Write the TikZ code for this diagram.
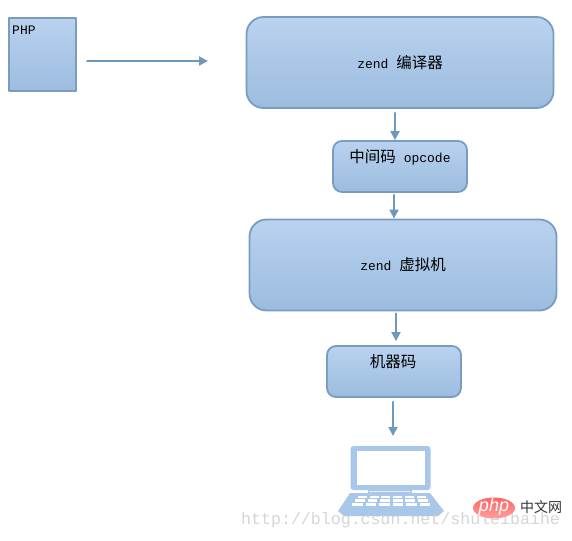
\documentclass[tikz,border=0pt]{standalone}
\usepackage{fontspec}
\setmonofont{Liberation Mono}
\newfontfamily\cjk{Noto Sans CJK SC}
\newfontfamily\logofont{Liberation Sans}
\usetikzlibrary{arrows.meta, shapes.geometric}

\definecolor{boxline}{HTML}{7B9CBE}
\definecolor{boxtop}{HTML}{B9D2EF}
\definecolor{boxbottom}{HTML}{9CBCDF}
\definecolor{flowline}{HTML}{6F98BF}
\definecolor{laptopblue}{HTML}{A9C7E8}

\tikzset{
  stagebox/.style={draw=boxline, line width=1.8pt, top color=boxtop, bottom color=boxbottom, inner sep=0pt},
  bigbox/.style={stagebox, rounded corners=17pt, minimum width=307pt, minimum height=91pt},
  smallbox/.style={stagebox, rounded corners=9pt, minimum width=134pt, minimum height=51pt},
  flow/.style={draw=flowline, line width=1.8pt, -{Triangle[length=9pt,width=9pt]}},
  boxtext/.style={inner sep=0pt, font=\ttfamily\fontsize{13}{15}\selectfont, text=black},
  wmark/.style={inner sep=0pt, font=\ttfamily\fontsize{16.6}{18}\selectfont, text=black!22, opacity=.75},
}

\begin{document}
\begin{tikzpicture}[x=1pt, y=-1pt, line cap=round, line join=round]
\useasboundingbox (0,0) rectangle (572,540);

% -----------------------
% Boxes
% -----------------------
\node[stagebox, minimum width=67pt, minimum height=73pt] (php) at (42.5,54.5) {};
\node[bigbox] (compiler) at (400,62.5) {};
\node[smallbox] (opcode) at (400,166.5) {};
\node[bigbox] (vm) at (403,265) {};
\node[smallbox] (machine) at (394,371.5) {};

% -----------------------
% Labels
% -----------------------
\node[boxtext, anchor=west] (phplabel) at (12,30) {PHP};
\node[boxtext] (compilerlabel) at (400,63) {zend {\cjk\fontsize{15.5}{15}\selectfont 编译器}};
\node[boxtext] (opcodelabel) at (400,157.5) {{\cjk\fontsize{15.5}{15}\selectfont 中间码} opcode};
\node[boxtext] (vmlabel) at (403,265) {zend {\cjk\fontsize{15.5}{15}\selectfont 虚拟机}};
\node[boxtext] (machinelabel) at (393,362) {\cjk\fontsize{15.5}{15}\selectfont 机器码};

% -----------------------
% Laptop
% -----------------------
\fill[laptopblue, rounded corners=3pt] (350.5,446) rectangle (430.5,490);
\fill[white] (357,451) rectangle (425,484.5);
\fill[laptopblue] (350,493) -- (430,493) -- (444,511) -- (438,516) -- (344,516) -- (338,511) -- cycle;
\fill[laptopblue] (368,489) rectangle (412,493);
\fill[white!70!laptopblue] (369,490.5) rectangle (410,492);
\foreach \i in {0,...,5}{
  % Three rows of keys
  \fill[white] (358+11.7*\i,495.5) rectangle ++(9,2.4);
  \fill[white] (355+12.6*\i,499.4) rectangle ++(9.8,2.4);
  \fill[white] (352+13.5*\i,503.3) rectangle ++(10.5,2.8);
}

\coordinate (laptop) at (393,446);
\coordinate (phpout) at (87,61);
\coordinate (phpin) at (208,61);

% -----------------------
% Arrows
% -----------------------
\draw[flow] (phpout) -- (phpin);
\draw[flow, shorten <=4pt] ([xshift=-5pt]compiler.south) -- ([xshift=-5pt]opcode.north);
\draw[flow, shorten <=2pt] ([xshift=-6pt]opcode.south) -- ([xshift=-9pt]vm.north);
\draw[flow, shorten <=2pt, shorten >=4pt] ([xshift=-7pt]vm.south) -- ([xshift=2pt]machine.north);
\draw[flow, shorten <=4pt, shorten >=10pt] ([xshift=-1pt]machine.south) -- (laptop);

% -----------------------
% Watermarks
% -----------------------
\node[wmark, anchor=west] (blogmark) at (241,520) {http://blog.csdn.net/shuleibaihe};
\node[ellipse, minimum width=42pt, minimum height=21pt, inner sep=0pt, top color=red!60!white, bottom color=red!38!white] (phplogo) at (494,508) {};
\node[inner sep=0pt, text=white, font=\logofont\itshape\fontsize{18}{18}\selectfont] (phplogotext) at (494,507) {php};
\node[inner sep=0pt, text=black!80, font=\cjk\fontsize{14}{14}\selectfont] (cnmark) at (541,507) {中文网};

\end{tikzpicture}
\end{document}
